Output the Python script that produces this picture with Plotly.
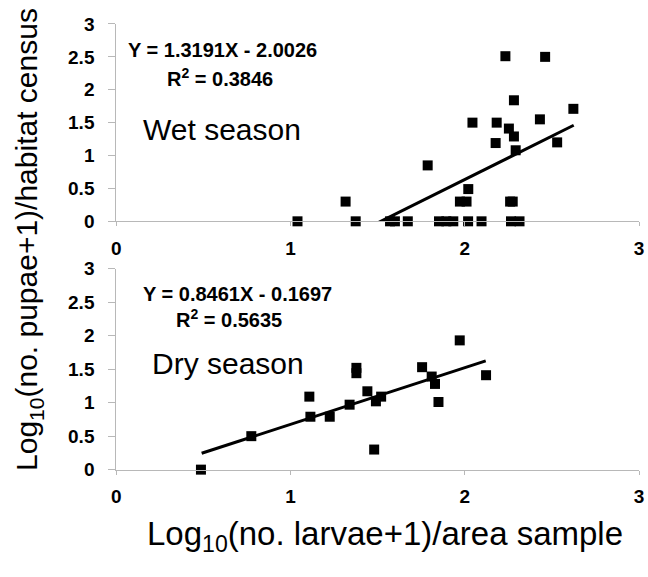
import plotly.graph_objects as go

# ---- data ----
wet_x = [1.04, 1.374, 1.571, 1.599, 1.673, 1.852, 1.894, 1.934, 2.019, 2.096, 2.265, 2.314,
         1.316, 1.972, 2.01, 2.26, 2.275,
         2.02, 1.787,
         2.044, 2.177, 2.183, 2.233, 2.253, 2.282, 2.282, 2.292, 2.431, 2.461, 2.530, 2.623]
wet_y = [0, 0, 0, 0, 0, 0, 0, 0, 0, 0, 0, 0,
         0.30, 0.30, 0.30, 0.30, 0.30,
         0.49, 0.85,
         1.50, 1.19, 1.50, 2.51, 1.41, 1.84, 1.29, 1.08, 1.55, 2.50, 1.20, 1.71]

dry_x = [0.486, 0.775, 1.108, 1.114, 1.225, 1.339, 1.378, 1.378, 1.441, 1.480, 1.490, 1.520,
         1.755, 1.810, 1.829, 1.849, 1.971, 2.122]
dry_y = [0.0, 0.50, 1.09, 0.79, 0.79, 0.97, 1.52, 1.44, 1.17, 0.30, 1.02, 1.09,
         1.53, 1.39, 1.28, 1.01, 1.93, 1.41]

wet_fit_x = [1.48, 2.625]
wet_fit_y = [-0.05, 1.46]
dry_fit_x = [0.49, 2.12]
dry_fit_y = [0.245, 1.624]

x_ticks = [0, 1, 2, 3]
y_ticks = [0, 0.5, 1, 1.5, 2, 2.5, 3]
y_tick_labels = ["0", "0.5", "1", "1.5", "2", "2.5", "3"]

wet_eq = "Y = 1.3191X - 2.0026"
wet_r2 = "R<sup>2</sup> = 0.3846"
dry_eq = "Y = 0.8461X - 0.1697"
dry_r2 = "R<sup>2</sup> = 0.5635"
x_title = "Log<sub>10</sub>(no. larvae+1)/area sample"
y_title = "Log<sub>10</sub>(no. pupae+1)/habitat census"

FONT = "Liberation Sans, Arial, sans-serif"
AXIS_GRAY = "#b8b8b8"

fig = go.Figure()

marker = dict(symbol="square", size=10, color="black", line=dict(width=0))
fig.add_trace(go.Scatter(x=wet_x, y=wet_y, mode="markers", marker=marker,
                         cliponaxis=False, xaxis="x", yaxis="y", showlegend=False))
fig.add_trace(go.Scatter(x=wet_fit_x, y=wet_fit_y, mode="lines",
                         line=dict(color="black", width=3), xaxis="x", yaxis="y",
                         showlegend=False))
fig.add_trace(go.Scatter(x=dry_x, y=dry_y, mode="markers", marker=marker,
                         cliponaxis=False, xaxis="x2", yaxis="y2", showlegend=False))
fig.add_trace(go.Scatter(x=dry_fit_x, y=dry_fit_y, mode="lines",
                         line=dict(color="black", width=3), xaxis="x2", yaxis="y2",
                         showlegend=False))

xdom = [113 / 648, 644 / 648]
top_dom = [1 - 219.3 / 577, 1 - 14.5 / 577]
bot_dom = [1 - 477 / 577, 1 - 268.5 / 577]

tick_font = dict(family=FONT, size=19, color="black", weight="bold")
xax = dict(range=[0, 3], domain=xdom, tickvals=x_ticks, ticktext=[str(t) for t in x_ticks],
           showgrid=False, zeroline=False, showline=True, linecolor=AXIS_GRAY, linewidth=1,
           ticks="outside", ticklen=4, tickcolor=AXIS_GRAY, ticklabelstandoff=6,
           ticklabeloverflow="allow", tickfont=tick_font)
yax = dict(range=[0, 3], tickvals=y_ticks, ticktext=y_tick_labels,
           showgrid=False, zeroline=False, showline=True, linecolor=AXIS_GRAY, linewidth=1,
           ticks="outside", ticklen=7, tickcolor=AXIS_GRAY, ticklabelstandoff=10,
           tickfont=tick_font)

fig.update_layout(
    width=648, height=577,
    margin=dict(l=0, r=0, t=0, b=0),
    paper_bgcolor="white", plot_bgcolor="white",
    xaxis=dict(xax, anchor="y"),
    yaxis=dict(yax, domain=top_dom, anchor="x"),
    xaxis2=dict(xax, anchor="y2"),
    yaxis2=dict(yax, domain=bot_dom, anchor="x2"),
)

eq_font = dict(family=FONT, size=20, color="black", weight="bold")
season_font = dict(family=FONT, size=30, color="black")
ann = [
    dict(text=wet_eq, x=0.609, y=2.61, xref="x", yref="y", font=eq_font),
    dict(text=wet_r2, x=0.594, y=2.19, xref="x", yref="y", font=eq_font),
    dict(text="Wet season", x=0.604, y=1.40, xref="x", yref="y", font=season_font),
    dict(text=dry_eq, x=0.693, y=2.63, xref="x2", yref="y2", font=eq_font),
    dict(text=dry_r2, x=0.649, y=2.26, xref="x2", yref="y2", font=eq_font),
    dict(text="Dry season", x=0.64, y=1.59, xref="x2", yref="y2", font=season_font),
    dict(text=x_title, x=386 / 648, y=1 - 546 / 577, xref="paper", yref="paper",
         font=dict(family=FONT, size=33, color="black")),
    dict(text=y_title, x=24 / 648, y=1 - 238 / 577, xref="paper", yref="paper", textangle=-90,
         font=dict(family=FONT, size=30, color="black")),
]
for a in ann:
    a.update(showarrow=False, xanchor="center", yanchor="middle")
fig.update_layout(annotations=ann)

fig.write_html("out.html")
